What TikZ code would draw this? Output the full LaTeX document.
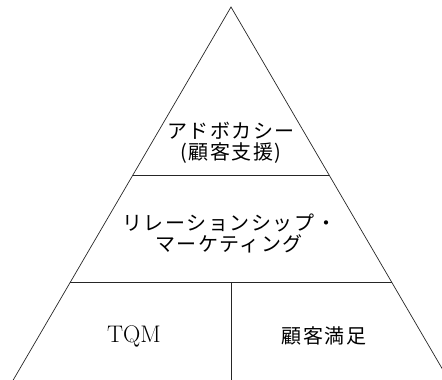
\documentclass[tikz,border=0pt]{standalone}
\usepackage{fontspec}
\newfontfamily\jpfont[LetterSpace=8]{Noto Sans CJK JP}
\usetikzlibrary{calc}
\tikzset{
  edge/.style={line width=0.7pt, black!85},
  label/.style={font=\jpfont\fontsize{20}{21}\selectfont, align=center, inner sep=0pt},
  latinlabel/.style={font=\fontsize{24}{24}\selectfont, inner sep=0pt}
}
\begin{document}
\begin{tikzpicture}[x=1pt,y=-1pt]
\useasboundingbox (0,0) rectangle (442,380);
\clip (0,0) rectangle (442,380);
\coordinate (apex) at (231,7);
\coordinate (bl) at (13.2,380);
\coordinate (br) at (448.8,380);
\coordinate (l1) at ($(apex)!0.4504!(bl)$);
\coordinate (r1) at ($(apex)!0.4504!(br)$);
\coordinate (l2) at ($(apex)!0.7373!(bl)$);
\coordinate (r2) at ($(apex)!0.7373!(br)$);
\coordinate (mid) at (231,282);
\coordinate (midb) at (231,380);
\draw[edge] (bl) -- (apex) -- (br);
\draw[edge] (l1) -- (r1);
\draw[edge] (l2) -- (r2);
\draw[edge] (mid) -- (midb);
\node[label] (top) at (231,143) {アドボカシー\\(顧客支援)};
\node[label] (middle) at (229,233) {リレーションシップ・\\マーケティング};
\node[latinlabel] (tqm) at (134,336) {TQM};
\node[label] (cs) at (324,336) {顧客満足};
\end{tikzpicture}
\end{document}
